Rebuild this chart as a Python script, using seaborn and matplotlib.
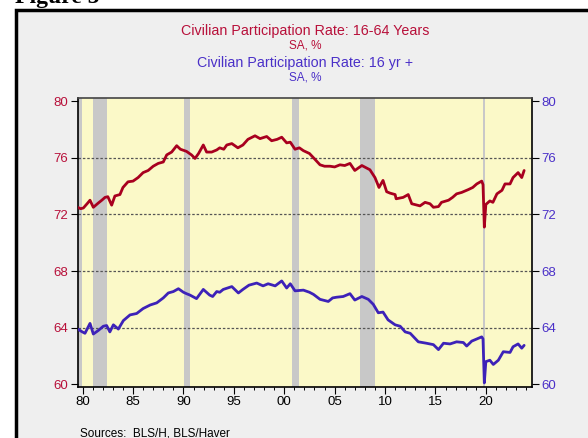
import matplotlib
matplotlib.use("Agg")
import matplotlib.pyplot as plt
import matplotlib.patches as mpatches
import seaborn as sns
import pandas as pd

# ---- data ----
red_t = [1980.0, 1980.3, 1980.57, 1981.0, 1981.23, 1981.56, 1982.05, 1982.4, 1982.72, 1983.0,
         1983.38, 1983.7, 1984.2, 1984.5, 1985.0, 1985.5, 1986.0, 1986.5, 1987.0, 1987.5,
         1988.0, 1988.5, 1988.84, 1989.33, 1989.83, 1990.2, 1990.8, 1991.3, 1991.65, 1992.0,
         1992.47, 1992.8, 1993.3, 1993.8, 1994.1, 1994.5, 1994.8, 1995.3, 1995.9, 1996.4,
         1996.9, 1997.6, 1998.1, 1998.76, 1999.25, 1999.8, 2000.25, 2000.74, 2001.1, 2001.57,
         2002.0, 2002.4, 2003.0, 2003.4, 2004.05, 2004.5, 2005.04, 2005.5, 2006.03, 2006.5,
         2007.02, 2007.5, 2008.2, 2008.6, 2009.0, 2009.5, 2009.9, 2010.3, 2010.66, 2011.0,
         2011.5, 2011.6, 2012.3, 2012.8, 2013.15, 2013.97, 2014.47, 2014.96, 2015.3, 2015.8,
         2016.1, 2016.8, 2017.2, 2017.6, 2018.1, 2018.76, 2019.2, 2019.6, 2020.09, 2020.22,
         2020.35, 2020.5, 2020.9, 2021.2, 2021.6, 2022.1, 2022.4, 2022.9, 2023.2, 2023.7,
         2024.06, 2024.3]
red_v = [72.5, 72.4, 72.45, 72.8, 73.0, 72.5, 72.8, 73.0, 73.2, 73.25,
         72.65, 73.3, 73.4, 73.9, 74.3, 74.35, 74.6, 74.95, 75.1, 75.4,
         75.6, 75.7, 76.2, 76.4, 76.85, 76.6, 76.45, 76.2, 75.95, 76.3,
         76.9, 76.4, 76.4, 76.55, 76.7, 76.6, 76.9, 77.0, 76.7, 76.9,
         77.3, 77.55, 77.35, 77.5, 77.2, 77.3, 77.45, 77.05, 77.1, 76.6,
         76.7, 76.5, 76.3, 76.0, 75.5, 75.4, 75.4, 75.35, 75.5, 75.45,
         75.6, 75.1, 75.45, 75.3, 75.15, 74.6, 73.9, 74.4, 73.6, 73.5,
         73.4, 73.1, 73.2, 73.4, 72.75, 72.6, 72.85, 72.75, 72.5, 72.55,
         72.85, 73.0, 73.2, 73.45, 73.55, 73.75, 73.9, 74.15, 74.35, 74.1,
         71.1, 72.7, 72.95, 72.85, 73.45, 73.7, 74.15, 74.15, 74.6, 74.95,
         74.6, 75.1]

blue_t = [1980.0, 1980.35, 1980.73, 1981.23, 1981.56, 1982.05, 1982.55, 1982.88, 1983.2, 1983.55,
          1984.04, 1984.54, 1985.2, 1985.86, 1986.5, 1987.2, 1987.85, 1988.5, 1989.0, 1989.5,
          1990.0, 1990.5, 1990.8, 1991.15, 1991.8, 1992.47, 1993.1, 1993.4, 1993.8, 1994.1,
          1994.45, 1995.3, 1995.95, 1996.4, 1997.0, 1997.77, 1998.4, 1998.9, 1999.6, 2000.25,
          2000.74, 2001.1, 2001.57, 2002.4, 2003.0, 2003.4, 2004.05, 2004.87, 2005.3, 2005.7,
          2006.35, 2007.02, 2007.5, 2008.2, 2008.84, 2009.33, 2009.83, 2010.3, 2010.8, 2011.5,
          2012.0, 2012.5, 2013.0, 2013.8, 2014.6, 2015.3, 2015.8, 2016.3, 2016.95, 2017.6,
          2018.27, 2018.6, 2019.1, 2019.6, 2020.09, 2020.22, 2020.35, 2020.5, 2020.9, 2021.24,
          2021.74, 2022.23, 2022.9, 2023.2, 2023.7, 2024.06, 2024.3]
blue_v = [63.9, 63.75, 63.6, 64.3, 63.55, 63.8, 64.1, 64.15, 63.7, 64.2,
          63.9, 64.5, 64.9, 65.0, 65.35, 65.6, 65.75, 66.1, 66.45, 66.55,
          66.75, 66.5, 66.4, 66.3, 66.05, 66.7, 66.3, 66.2, 66.55, 66.5,
          66.7, 66.9, 66.45, 66.7, 67.0, 67.15, 66.95, 67.1, 66.95, 67.3,
          66.8, 67.1, 66.6, 66.65, 66.5, 66.35, 66.0, 65.85, 66.1, 66.15,
          66.2, 66.4, 65.95, 66.2, 66.0, 65.65, 65.05, 65.1, 64.55, 64.2,
          64.1, 63.7, 63.6, 63.0, 62.9, 62.8, 62.45, 62.9, 62.85, 63.0,
          62.95, 62.7, 63.05, 63.2, 63.35, 63.2, 60.1, 61.6, 61.7, 61.4,
          61.7, 62.3, 62.25, 62.65, 62.85, 62.55, 62.75]

recess_start = [1980.0, 1981.53, 1990.53, 2001.24, 2008.0, 2020.19]
recess_end = [1980.48, 1982.9, 1991.2, 2001.94, 2009.5, 2020.42]

y_ticks = [60, 64, 68, 72, 76, 80]
x_tick_years = [1980, 1985, 1990, 1995, 2000, 2005, 2010, 2015, 2020]
x_tick_labels = ["80", "85", "90", "95", "00", "05", "10", "15", "20"]

title_red = "Civilian Participation Rate: 16-64 Years"
title_blue = "Civilian Participation Rate: 16 yr +"
units = "SA, %"
source = "Sources:  BLS/H, BLS/Haver"

RED = "#a8001f"
BLUE = "#3d22b8"
RED_TXT = "#b8103a"
BLUE_TXT = "#4a30c8"

sns.set_theme(style="white")
plt.rcParams["font.family"] = ["Liberation Sans", "DejaVu Sans"]

W, H = 588, 438
fig = plt.figure(figsize=(W / 100, H / 100), dpi=100, facecolor="white")

# panel background with black border
fig.patches.append(mpatches.Rectangle((15.5 / W, -0.1), 1.2, 1 - 9.5 / H + 0.1,
                                      transform=fig.transFigure, facecolor="#efefef",
                                      edgecolor="black", linewidth=2.5, zorder=-10))
fig.text(15 / W, 1 - 3 / H, "Figure 5", fontsize=17, fontweight="bold",
         family=["Liberation Serif", "DejaVu Serif"], va="baseline", ha="left", color="black")

left, right, top, bottom = 77.6, 532.0, 97.7, 386.7
ax = fig.add_axes([left / W, 1 - bottom / H, (right - left) / W, (bottom - top) / H])
ax.set_facecolor("#fbf9c8")

for s, e in zip(recess_start, recess_end):
    ax.axvspan(s, e, color="#c8c8c8", lw=0, zorder=0)

for yv in y_ticks[1:-1]:
    ax.axhline(yv, color="#555555", lw=0.9, ls=(0, (2, 1.5)), zorder=1)

df_red = pd.DataFrame({"t": red_t, "v": red_v})
df_blue = pd.DataFrame({"t": blue_t, "v": blue_v})
sns.lineplot(data=df_red, x="t", y="v", ax=ax, color=RED, lw=2.0, estimator=None, zorder=3)
sns.lineplot(data=df_blue, x="t", y="v", ax=ax, color=BLUE, lw=2.0, estimator=None, zorder=3)

ax.set_xlim(1980.0, 1980.0 + (right - left) / 10.08)
ax.set_ylim(59.83, 80.24)
ax.set_xlabel("")
ax.set_ylabel("")
ax.set_yticks(y_ticks)
ax.set_yticklabels([str(v) for v in y_ticks], color=RED_TXT, fontsize=9.5)
ax.set_xticks([y + 0.5 for y in x_tick_years])
ax.set_xticklabels(x_tick_labels, fontsize=9.5, color="black")
ax.set_xticks([y + 0.5 for y in range(1980, 2025)], minor=True)
ax.tick_params(axis="x", which="major", direction="out", length=5, width=0.8, color="black", pad=1.5, bottom=True)
ax.tick_params(axis="x", which="minor", direction="out", length=2.5, width=0.7, color="black", bottom=True)
ax.tick_params(axis="y", which="major", direction="out", length=5, width=0.8, color="black", pad=2, left=True)

for name, sp in ax.spines.items():
    sp.set_color("black" if name != "top" else "#444444")
    sp.set_linewidth(1.2)

ax2 = ax.twinx()
ax2.set_ylim(ax.get_ylim())
ax2.set_yticks(y_ticks)
ax2.set_yticklabels([str(v) for v in y_ticks], color=BLUE_TXT, fontsize=9.5)
ax2.tick_params(axis="y", direction="out", length=5, width=0.8, color="black", pad=2, right=True)
ax2.grid(False)
for sp in ax2.spines.values():
    sp.set_visible(False)

cx = 305 / W
fig.text(cx, 1 - 31 / H, title_red, color=RED_TXT, fontsize=10.3, ha="center", va="center")
fig.text(cx, 1 - 45 / H, units, color=RED_TXT, fontsize=8.5, ha="center", va="center")
fig.text(cx, 1 - 63 / H, title_blue, color=BLUE_TXT, fontsize=10.3, ha="center", va="center")
fig.text(cx, 1 - 78 / H, units, color=BLUE_TXT, fontsize=8.5, ha="center", va="center")

fig.text(80 / W, 1 - 436 / H, source, fontsize=8.5, color="black", ha="left", va="baseline")

fig.savefig("out.png", dpi=100, facecolor="white")
